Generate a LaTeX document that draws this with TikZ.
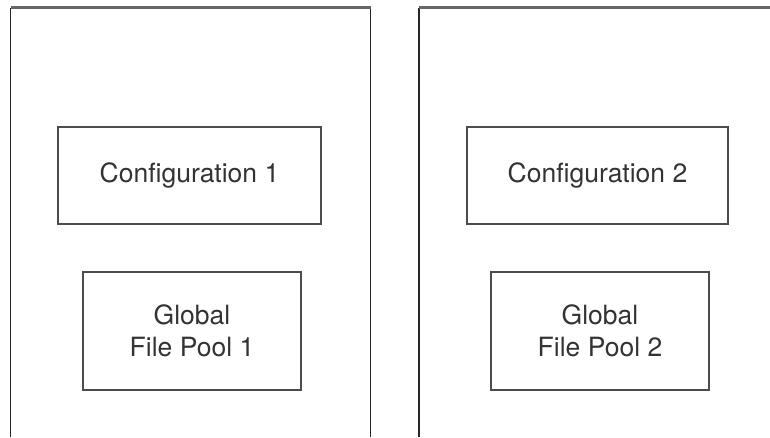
\documentclass[tikz,border=0pt]{standalone}
\usepackage{fontspec}
\setmainfont{TeX Gyre Heros}
\begin{document}
\begin{tikzpicture}[x=1pt,y=-1pt,
  outer/.style={draw=black!85, line width=1.4pt},
  topline/.style={draw=black!60, line width=2.2pt},
  inbox/.style={draw=black!70, line width=1.3pt, text=black!80, font=\fontsize{26.5}{32}\selectfont, align=center, inner sep=0pt}]
\useasboundingbox (0,0) rectangle (770,437);
% left region
\coordinate (l1) at (10.5,437);
\coordinate (l2) at (10.5,7.5);
\coordinate (l3) at (370.5,7.5);
\coordinate (l4) at (370.5,437);
\draw[outer] (l1) -- (l2);
\draw[outer] (l3) -- (l4);
\draw[topline] (l2) -- (l3);
% right region
\coordinate (r1) at (419,437);
\coordinate (r2) at (419,7.5);
\coordinate (r3) at (770,7.5);
\draw[outer] (r1) -- (r2);
\draw[topline] (r2) -- (r3);
% boxes
\node[inbox, minimum width=263pt, minimum height=97pt] (c1) at (189.5,175.5) {Configuration 1};
\node[inbox, minimum width=218pt, minimum height=118pt] (g1) at (192,331) {Global\\File Pool 1};
\node[inbox, minimum width=261pt, minimum height=97pt] (c2) at (597.5,175.5) {Configuration 2};
\node[inbox, minimum width=218pt, minimum height=118pt] (g2) at (600,331) {Global\\File Pool 2};
\end{tikzpicture}
\end{document}
